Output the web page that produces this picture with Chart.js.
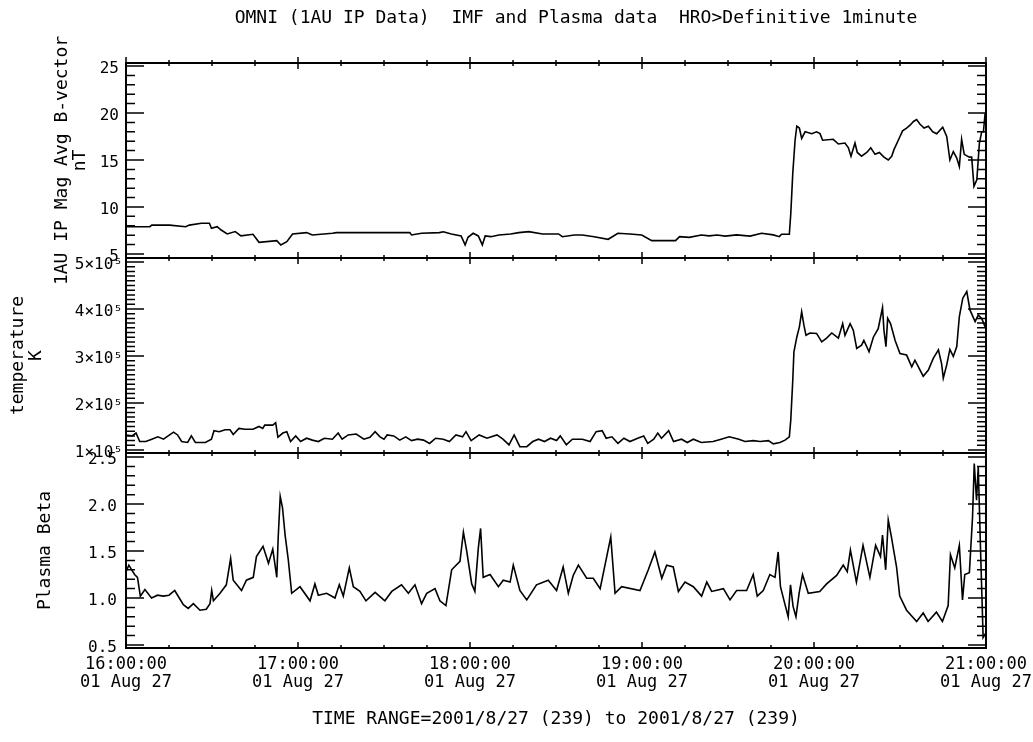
<!DOCTYPE html>
<html>
<head>
<meta charset="utf-8">
<title>OMNI IMF and Plasma data</title>
<script src="https://cdn.jsdelivr.net/npm/chart.js@4.4.1/dist/chart.umd.min.js"></script>
<style>
    body { margin: 0; background: #fff; }
    #grafico { display: block; }
</style>
</head>
<body>
<canvas id="grafico" width="1033" height="742"></canvas>
<script>
const tituloGeral = 'OMNI (1AU IP Data)  IMF and Plasma data  HRO>Definitive 1minute';
const tituloTempo = 'TIME RANGE=2001/8/27 (239) to 2001/8/27 (239)';

// minutos depois das 16:00
const timeTicks = [0, 60, 120, 180, 240, 300];
const timeLabels = ['16:00:00', '17:00:00', '18:00:00', '19:00:00', '20:00:00', '21:00:00'];
const dateLabel = '01 Aug 27';

const bTicks = [5, 10, 15, 20, 25];
const tempTicks = [100000, 200000, 300000, 400000, 500000];
const tempLabels = ['1×10⁵', '2×10⁵', '3×10⁵', '4×10⁵', '5×10⁵'];
const betaTicks = [0.5, 1.0, 1.5, 2.0, 2.5];
const betaLabels = ['0.5', '1.0', '1.5', '2.0', '2.5'];

// 1AU IP Mag Avg B-vector (nT)
const bTime = [0, 8.3, 9, 15.2, 20.8, 22.1, 26.3, 29.1, 29.8, 31.8,
    33.2, 35.3, 38.1, 40.1, 44.3, 46.4, 52.6, 54, 56.1, 58.1,
    63, 65, 72, 73.4, 99, 99.6, 103.1, 109.3, 110.7, 113.5,
    116.9, 118.3, 119.3, 121.1, 122.9, 124.3, 125.3, 127.3, 130.1, 134.2,
    137, 140.5, 145.3, 150.9, 152.2, 156.4, 159.2, 163.3, 168.2, 171.6,
    175.8, 179.9, 183.4, 191.7, 193.1, 196.5, 200.7, 203.4, 206.2, 209,
    213, 217.7, 221.7, 225.8, 227.9, 228.7, 231.4, 231.9, 232.6, 233.4,
    234, 234.9, 235.7, 236.9, 239.2, 240.9, 242.1, 243, 246.7, 248.5,
    250.8, 252, 252.9, 254.3, 255.1, 256.6, 258.4, 259.8, 261.3, 262.8,
    264.4, 265.9, 267.1, 267.9, 270, 270.9, 272.3, 273.5, 274.7, 275.8,
    277, 278.4, 279.9, 281.4, 282.8, 284.9, 286.3, 287.4, 288.6, 289.8,
    290.7, 291.5, 292.4, 294.2, 295, 295.8, 296.8, 297.7, 298.5, 299.1,
    299.7];
const bValues = [7.9, 7.9, 8.07, 8.07, 7.9, 8.07, 8.26, 8.26, 7.73, 7.9,
    7.55, 7.13, 7.38, 6.92, 7.09, 6.24, 6.42, 5.96, 6.31, 7.13,
    7.27, 7.02, 7.2, 7.27, 7.27, 7.02, 7.2, 7.27, 7.36, 7.13,
    6.92, 5.96, 6.77, 7.2, 6.92, 5.96, 6.92, 6.84, 7.02, 7.13,
    7.27, 7.38, 7.13, 7.13, 6.84, 7.02, 7.02, 6.84, 6.56, 7.2,
    7.13, 7.02, 6.42, 6.42, 6.84, 6.77, 7.02, 6.92, 7.02, 6.9,
    7.03, 6.9, 7.2, 7.03, 6.84, 7.1, 7.1, 9.29, 13.6, 17.1,
    18.6, 18.4, 17.3, 18.0, 17.8, 18.0, 17.8, 17.1, 17.2, 16.7,
    16.8, 16.3, 15.4, 16.8, 15.8, 15.4, 15.8, 16.3, 15.6, 15.8,
    15.3, 15.0, 15.4, 16.1, 17.5, 18.1, 18.4, 18.7, 19.1, 19.3,
    18.8, 18.4, 18.6, 18.0, 17.8, 18.5, 17.5, 15.0, 15.9, 15.2,
    14.3, 17.2, 15.6, 15.3, 15.3, 12.2, 12.9, 16.8, 18.0, 18.0,
    20.0];

// temperature (K)
const tempTime = [0, 2.1, 3.5, 4.8, 6.9, 9.0, 11.1, 13.1, 15.2, 16.6,
    18.0, 19.4, 21.5, 22.8, 24.2, 27.7, 29.8, 30.7, 32.5, 34.6,
    36.3, 37.4, 39.4, 41.5, 44.3, 46.4, 47.7, 48.4, 51.2, 52.2,
    53.0, 54.7, 56.1, 57.4, 59.2, 60.9, 63.0, 65.0, 67.1, 69.2,
    72.0, 74.0, 75.4, 77.5, 80.3, 83.0, 85.1, 86.9, 88.6, 90.0,
    91.1, 93.4, 95.5, 97.6, 99.6, 101.7, 103.8, 105.9, 108.0, 110.7,
    112.8, 115.1, 117.4, 118.6, 120.4, 123.2, 125.9, 129.4, 131.5, 133.6,
    135.4, 137.4, 139.8, 141.9, 143.9, 146.0, 148.1, 150.2, 151.5, 153.6,
    155.7, 159.2, 161.9, 164.0, 166.1, 167.5, 169.5, 171.6, 173.7, 175.8,
    178.5, 180.6, 182.0, 184.1, 185.5, 186.8, 189.3, 191.0, 193.8, 195.8,
    197.9, 200.7, 204.8, 207.6, 210.4, 213.8, 215.9, 218.8, 221.2, 224.1,
    225.8, 228.1, 229.9, 231.4, 231.9, 232.6, 233.0, 234.0, 234.9, 235.7,
    236.5, 237.2, 238.6, 240.9, 242.7, 244.4, 246.2, 248.5, 250.0, 250.8,
    252.6, 253.7, 254.9, 256.6, 257.4, 259.2, 260.7, 262.4, 263.9, 264.4,
    265.1, 265.7, 266.7, 268.3, 270.0, 272.3, 274.1, 275.2, 278.1, 279.9,
    281.6, 283.4, 284.5, 285.1, 286.3, 287.4, 288.6, 289.8, 290.7, 291.9,
    293.3, 294.4, 296.2, 297.3, 298.5, 299.7];
const tempValues = [1.32e5, 1.30e5, 1.36e5, 1.18e5, 1.18e5, 1.23e5, 1.28e5, 1.23e5, 1.32e5, 1.38e5,
    1.32e5, 1.18e5, 1.16e5, 1.30e5, 1.16e5, 1.16e5, 1.23e5, 1.41e5, 1.39e5, 1.43e5,
    1.43e5, 1.33e5, 1.46e5, 1.44e5, 1.44e5, 1.50e5, 1.46e5, 1.53e5, 1.53e5, 1.58e5,
    1.27e5, 1.36e5, 1.39e5, 1.18e5, 1.30e5, 1.18e5, 1.25e5, 1.21e5, 1.18e5, 1.25e5,
    1.23e5, 1.36e5, 1.23e5, 1.32e5, 1.34e5, 1.23e5, 1.27e5, 1.39e5, 1.28e5, 1.23e5,
    1.32e5, 1.30e5, 1.21e5, 1.28e5, 1.20e5, 1.23e5, 1.21e5, 1.14e5, 1.25e5, 1.23e5,
    1.18e5, 1.32e5, 1.28e5, 1.39e5, 1.20e5, 1.32e5, 1.25e5, 1.32e5, 1.23e5, 1.11e5,
    1.32e5, 1.07e5, 1.07e5, 1.18e5, 1.23e5, 1.18e5, 1.25e5, 1.20e5, 1.30e5, 1.11e5,
    1.23e5, 1.23e5, 1.18e5, 1.39e5, 1.41e5, 1.25e5, 1.28e5, 1.14e5, 1.25e5, 1.18e5,
    1.25e5, 1.30e5, 1.14e5, 1.23e5, 1.36e5, 1.25e5, 1.41e5, 1.18e5, 1.23e5, 1.16e5,
    1.23e5, 1.16e5, 1.18e5, 1.23e5, 1.28e5, 1.23e5, 1.18e5, 1.20e5, 1.18e5, 1.20e5,
    1.13e5, 1.16e5, 1.21e5, 1.28e5, 1.64e5, 2.49e5, 3.09e5, 3.40e5, 3.62e5, 3.94e5,
    3.65e5, 3.44e5, 3.49e5, 3.48e5, 3.30e5, 3.38e5, 3.49e5, 3.38e5, 3.69e5, 3.44e5,
    3.69e5, 3.55e5, 3.16e5, 3.23e5, 3.33e5, 3.09e5, 3.40e5, 3.58e5, 4.03e5, 3.55e5,
    3.20e5, 3.80e5, 3.69e5, 3.33e5, 3.05e5, 3.02e5, 2.77e5, 2.91e5, 2.57e5, 2.70e5,
    2.95e5, 3.13e5, 2.84e5, 2.53e5, 2.81e5, 3.14e5, 2.99e5, 3.20e5, 3.84e5, 4.23e5,
    4.37e5, 3.98e5, 3.73e5, 3.87e5, 3.80e5, 3.62e5];

// Plasma Beta
const betaTime = [0, 1, 2, 3, 4, 5, 6.6, 8.9, 11, 13,
    15, 17, 20, 21.7, 23.5, 25.8, 28, 29.3, 29.9, 30.5,
    32.8, 35, 36.5, 37.4, 40.3, 42, 44.4, 45.5, 47.8, 49.7,
    51.2, 52.6, 53.1, 53.8, 54.6, 55.5, 56.6, 57.8, 60.7, 64.2,
    65.9, 67.1, 70, 72.9, 74.4, 75.8, 77.9, 79.3, 81.6, 83.7,
    86.9, 90.3, 92.7, 96.1, 98.5, 100.8, 103.1, 104.9, 107.8, 109.5,
    111.6, 113.6, 116.5, 117.7, 118.8, 120.6, 121.7, 122.9, 123.7, 124.6,
    127, 129.9, 131.6, 134, 135.1, 137.4, 139.8, 143.2, 147.3, 150.2,
    152.5, 154.3, 156, 157.8, 160.7, 163, 165.4, 167.7, 169.1, 170.6,
    172.9, 179.3, 182.2, 184.5, 186.9, 188.6, 190.9, 192.7, 195, 197.9,
    200.8, 202.6, 204.3, 208.4, 210.7, 213, 216.5, 218.8, 220.2, 222.3,
    224.6, 226.4, 227.5, 228.3, 229.8, 231, 231.8, 232.7, 233.7, 234.8,
    236, 238, 242, 244.4, 247.9, 250.2, 251.6, 252.7, 254.8, 257.1,
    259.5, 261.5, 263.2, 263.9, 265, 265.9, 267, 268.8, 269.9, 272.3,
    275.8, 278.1, 279.8, 282.7, 284.8, 286.8, 287.6, 289.1, 290.7, 291.8,
    292.6, 294.2, 295.3, 295.9, 296.7, 297.3, 298.1, 299, 299.8];
const betaValues = [1.28, 1.35, 1.30, 1.25, 1.22, 1.02, 1.09, 1.00, 1.03, 1.02,
    1.03, 1.08, 0.93, 0.89, 0.94, 0.87, 0.88, 0.94, 1.08, 0.97,
    1.05, 1.14, 1.42, 1.19, 1.08, 1.19, 1.22, 1.44, 1.55, 1.37,
    1.52, 1.22, 1.65, 2.08, 1.96, 1.67, 1.41, 1.05, 1.12, 0.97,
    1.15, 1.03, 1.05, 1.00, 1.14, 1.02, 1.32, 1.12, 1.07, 0.97,
    1.06, 0.97, 1.07, 1.14, 1.05, 1.14, 0.94, 1.05, 1.10, 0.97,
    0.92, 1.30, 1.39, 1.70, 1.51, 1.15, 1.07, 1.53, 1.74, 1.22,
    1.25, 1.12, 1.19, 1.17, 1.35, 1.08, 0.98, 1.14, 1.19, 1.08,
    1.33, 1.05, 1.24, 1.35, 1.21, 1.21, 1.10, 1.44, 1.65, 1.05,
    1.12, 1.08, 1.30, 1.49, 1.21, 1.35, 1.33, 1.07, 1.17, 1.12,
    1.02, 1.17, 1.07, 1.10, 0.98, 1.08, 1.08, 1.25, 1.02, 1.08,
    1.25, 1.22, 1.49, 1.12, 0.94, 0.80, 1.14, 0.91, 0.80, 1.05,
    1.25, 1.05, 1.07, 1.15, 1.24, 1.35, 1.28, 1.51, 1.17, 1.56,
    1.22, 1.56, 1.44, 1.67, 1.30, 1.83, 1.65, 1.33, 1.02, 0.87,
    0.75, 0.84, 0.75, 0.85, 0.75, 0.92, 1.46, 1.32, 1.56, 0.98,
    1.25, 1.27, 1.86, 2.43, 2.04, 2.40, 1.51, 0.58, 0.62];

function montarPontos(tempos, valores) {
    return tempos.map(function (t, i) {
        return { x: t, y: valores[i] };
    });
}

function fixarTicks(lista) {
    return function (escala) {
        escala.ticks = lista.map(function (v) { return { value: v }; });
    };
}

const fonteTexto = '"DejaVu Sans Mono", monospace';
Chart.defaults.font.family = fonteTexto;
Chart.defaults.color = '#000';

// moldura e marcas de escala no estilo IDL (ticks para dentro)
const molduraPainel = {
    id: 'molduraPainel',
    afterDatasetsDraw(chart) {
        const ctx = chart.ctx;
        const area = chart.chartArea;
        const escalaX = chart.scales.x;
        const passosMenores = { yB: 1, yT: 10000, yP: 0.1 };

        ctx.save();
        ctx.strokeStyle = '#000';

        ['yB', 'yT', 'yP'].forEach(function (id) {
            const s = chart.scales[id];
            ctx.lineWidth = 2;
            ctx.strokeRect(area.left, s.top, area.right - area.left, s.bottom - s.top);

            ctx.lineWidth = 1.5;
            ctx.beginPath();
            s.ticks.forEach(function (t) {
                const py = s.getPixelForValue(t.value);
                ctx.moveTo(area.left, py);
                ctx.lineTo(area.left + 18, py);
                ctx.moveTo(area.right, py);
                ctx.lineTo(area.right - 18, py);
            });
            const passo = passosMenores[id];
            for (let k = Math.ceil(s.min / passo); k * passo <= s.max; k++) {
                const py = s.getPixelForValue(k * passo);
                ctx.moveTo(area.left, py);
                ctx.lineTo(area.left + 9, py);
                ctx.moveTo(area.right, py);
                ctx.lineTo(area.right - 9, py);
            }

            for (let m = 0; m <= 300; m += 15) {
                const px = escalaX.getPixelForValue(m);
                const tam = (m % 60 === 0) ? 6 : 3;
                ctx.moveTo(px, s.top - (id === 'yB' ? tam : 0));
                ctx.lineTo(px, s.top + tam);
                ctx.moveTo(px, s.bottom);
                ctx.lineTo(px, s.bottom - tam);
            }
            ctx.stroke();
        });

        ctx.fillStyle = '#000';
        ctx.font = '18px ' + fonteTexto;
        ctx.textAlign = 'center';
        ctx.textBaseline = 'middle';
        ctx.fillText(tituloGeral, (area.left + area.right) / 2 + 20, 18);
        ctx.restore();
    }
};

function eixoY(titulo, recuoTitulo, ticks, rotulos, min, max, peso, recuoRotulo) {
    return {
        type: 'linear',
        position: 'left',
        stack: 'paineis',
        stackWeight: 1,
        weight: peso,
        min: min,
        max: max,
        afterBuildTicks: fixarTicks(ticks),
        afterFit: function (escala) { escala.width = 126; },
        grid: { display: false, drawTicks: false },
        border: { display: false },
        ticks: {
            autoSkip: false,
            padding: recuoRotulo,
            labelOffset: 3,
            font: { size: 16 },
            callback: function (valor) {
                const i = ticks.indexOf(valor);
                return i >= 0 ? rotulos[i] : '';
            }
        },
        title: {
            display: true,
            text: titulo,
            font: { size: 18, lineHeight: 1 },
            padding: { top: recuoTitulo, bottom: 0 }
        }
    };
}

const ctx1 = document.getElementById('grafico');

new Chart(ctx1, {
    type: 'line',
    data: {
        datasets: [
            {
                data: montarPontos(bTime, bValues),
                yAxisID: 'yB'
            },
            {
                data: montarPontos(tempTime, tempValues),
                yAxisID: 'yT'
            },
            {
                data: montarPontos(betaTime, betaValues),
                yAxisID: 'yP'
            }
        ]
    },
    options: {
        responsive: false,
        animation: false,
        parsing: false,
        normalized: true,
        elements: {
            line: { borderColor: '#000', borderWidth: 1.6, tension: 0 },
            point: { radius: 0 }
        },
        layout: {
            padding: { top: 63, right: 47, left: 0, bottom: 0 }
        },
        plugins: {
            legend: { display: false },
            tooltip: { enabled: false },
            title: { display: false }
        },
        scales: {
            x: {
                type: 'linear',
                min: 0,
                max: 300,
                afterBuildTicks: fixarTicks(timeTicks),
                afterFit: function (escala) {
                    escala.height = 94;
                    escala.paddingLeft = 0;
                    escala.paddingRight = 0;
                },
                grid: { display: false, drawTicks: false },
                border: { display: false },
                ticks: {
                    autoSkip: false,
                    maxRotation: 0,
                    padding: 7,
                    font: { size: 17, lineHeight: 1.1 },
                    callback: function (valor) {
                        return [timeLabels[timeTicks.indexOf(valor)], dateLabel];
                    }
                },
                title: {
                    display: true,
                    text: tituloTempo,
                    font: { size: 18 },
                    padding: { top: 0, bottom: 12 }
                }
            },
            yP: eixoY('Plasma Beta', 36, betaTicks, betaLabels, 0.468, 2.543, 1, 9),
            yT: eixoY(['temperature', 'K'], 9, tempTicks, tempLabels, 93600, 508500, 2, 3),
            yB: eixoY(['1AU IP Mag Avg B-vector', 'nT'], 53, bTicks, bTicks.map(String), 4.57, 25.32, 3, 7)
        }
    },
    plugins: [molduraPainel]
});
</script>
</body>
</html>
